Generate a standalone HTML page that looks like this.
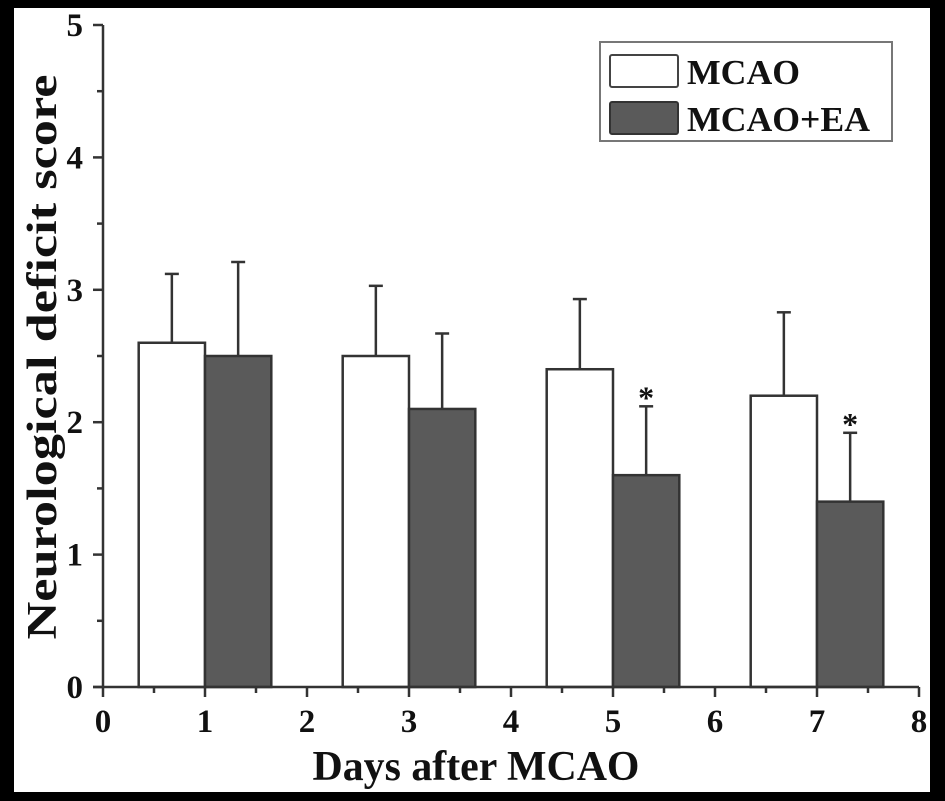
<!DOCTYPE html>
<html><head><meta charset="utf-8"><style>
html,body{margin:0;padding:0;background:#000;}
svg{display:block;}
text{font-family:"Liberation Serif",serif;font-weight:bold;fill:#111;}
</style></head><body>
<svg id="chart" width="945" height="801">
<rect x="14" y="8" width="916" height="784" fill="#fff"/>
<g id="marks"></g>
<g id="axes"></g>
<g>
<rect x="600" y="42" width="292" height="99" fill="#fff" stroke="#777" stroke-width="2"/>
<rect x="610" y="55" width="68" height="32" fill="#fff" stroke="#444" stroke-width="2" rx="2"/>
<text x="687" y="84" font-size="35" textLength="113" lengthAdjust="spacingAndGlyphs">MCAO</text>
<rect x="610" y="102" width="68" height="32" fill="#5a5a5a" stroke="#333" stroke-width="2" rx="2"/>
<text x="687" y="131" font-size="35" textLength="183" lengthAdjust="spacingAndGlyphs">MCAO+EA</text>
</g>
<text transform="translate(56,357) rotate(-90)" text-anchor="middle" font-size="42" textLength="565" lengthAdjust="spacingAndGlyphs">Neurological deficit score</text>
<text x="476" y="780" text-anchor="middle" font-size="42" textLength="327" lengthAdjust="spacingAndGlyphs">Days after MCAO</text>
</svg>
<script>
const days = [1, 3, 5, 7];
const mcao = [2.6, 2.5, 2.4, 2.2];
const mcaoErr = [0.52, 0.53, 0.53, 0.63];
const ea = [2.5, 2.1, 1.6, 1.4];
const eaErr = [0.71, 0.57, 0.52, 0.52];
const eaSig = [false, false, true, true];
const xTicks = [0, 1, 2, 3, 4, 5, 6, 7, 8];
const yTicks = [0, 1, 2, 3, 4, 5];

const NS = "http://www.w3.org/2000/svg";
const X = v => 103 + v * 102;
const Y = v => 687 - v * 132.4;
const BW = 0.65;
const marks = document.getElementById('marks');
const axes = document.getElementById('axes');
function mk(tag, attrs, parent) {
  const e = document.createElementNS(NS, tag);
  for (const k in attrs) e.setAttribute(k, attrs[k]);
  parent.appendChild(e);
  return e;
}
function errBar(cx, v, err, parent) {
  const g = mk('g', {stroke: '#333', 'stroke-width': 2.5}, parent);
  
  
  mk('line', {x1: cx, x2: cx, y1: Y(v), y2: Y(v + err)}, g);
  mk('line', {x1: cx - 7, x2: cx + 7, y1: Y(v + err), y2: Y(v + err)}, g);
}
days.forEach((d, i) => {
  const x1 = X(d - BW), x2 = X(d), x3 = X(d + BW);
  errBar((x1 + x2) / 2, mcao[i], mcaoErr[i], marks);
  errBar((x2 + x3) / 2, ea[i], eaErr[i], marks);
  const r1 = mk('rect', {x: x1, y: Y(mcao[i]), width: x2 - x1, height: Y(0) - Y(mcao[i]), fill: '#fff', stroke: '#333', 'stroke-width': 2.5}, marks);
  
  
  const r2 = mk('rect', {x: x2, y: Y(ea[i]), width: x3 - x2, height: Y(0) - Y(ea[i]), fill: '#5a5a5a', stroke: '#333', 'stroke-width': 2.5}, marks);
  
  
  if (eaSig[i]) {
    const t = mk('text', {x: (x2 + x3) / 2, y: Y(ea[i] + eaErr[i]) + 2, 'text-anchor': 'middle', 'font-size': 32}, marks);
    t.textContent = '*';
    
    
  }
});
const ax = mk('g', {stroke: '#333', 'stroke-width': 2.5}, axes);


mk('line', {x1: X(0), x2: X(0), y1: Y(5), y2: Y(0)}, ax);
mk('line', {x1: X(0) - 10, x2: X(8), y1: Y(0), y2: Y(0)}, ax);
yTicks.forEach(v => {
  mk('line', {x1: X(0) - 10, x2: X(0), y1: Y(v), y2: Y(v)}, ax);
  if (v < 5) mk('line', {x1: X(0) - 6, x2: X(0), y1: Y(v + 0.5), y2: Y(v + 0.5)}, ax);
  const t = mk('text', {x: X(0) - 20, y: Y(v) + 11, 'text-anchor': 'end', 'font-size': 33}, axes);
  t.textContent = v;
  
  
});
xTicks.forEach(v => {
  mk('line', {x1: X(v), x2: X(v), y1: Y(0), y2: Y(0) + 10}, ax);
  if (v < 8) mk('line', {x1: X(v + 0.5), x2: X(v + 0.5), y1: Y(0), y2: Y(0) + 6}, ax);
  const t = mk('text', {x: X(v), y: Y(0) + 45, 'text-anchor': 'middle', 'font-size': 33}, axes);
  t.textContent = v;
  
  
});
</script>
</body></html>
